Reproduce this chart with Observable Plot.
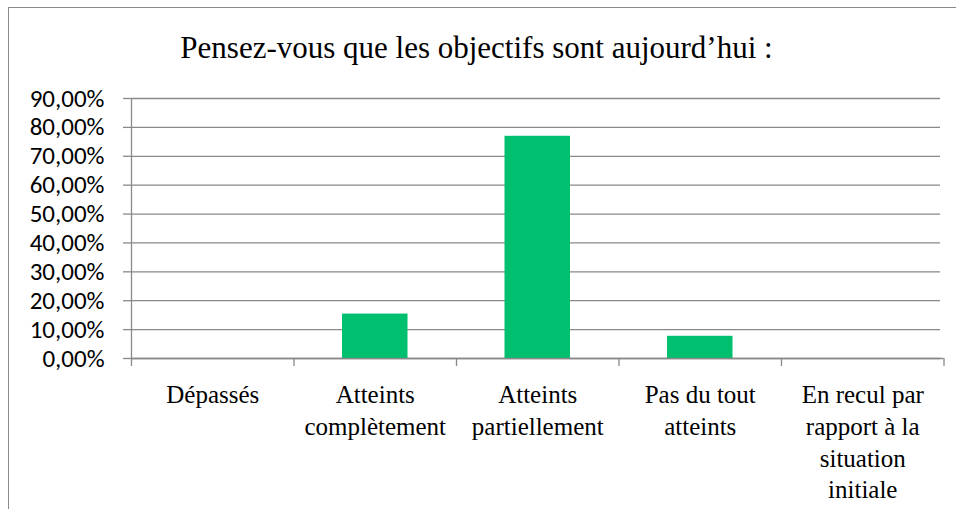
<!DOCTYPE html>
<html>
<head>
<meta charset="utf-8">
<script src="https://cdn.jsdelivr.net/npm/d3@7"></script>
<script src="https://cdn.jsdelivr.net/npm/@observablehq/plot@0.6"></script>
<style>
  html, body { margin: 0; padding: 0; background: #fff; overflow: hidden; }
  #wrap { position: relative; width: 956px; height: 509px; overflow: hidden; }
  #frame { position: absolute; left: 8px; top: 7px; width: 1000px; height: 600px;
           border-left: 1.5px solid #8a8a8a; border-top: 1.5px solid #8a8a8a; pointer-events: none; }
  #title { position: relative; height: 48px; padding-top: 32px; width: 953px; text-align: center;
           font-family: "Liberation Serif", serif; font-size: 31px; line-height: 31px; color: #000; }
  #chart svg { display: block; }
</style>
</head>
<body>
<div id="wrap">
  <div id="frame"></div>
  <div id="title">Pensez-vous que les objectifs sont aujourd’hui :</div>
  <div id="chart"></div>
</div>
<script>
const categories = ["Dépassés", "Atteints complètement", "Atteints partiellement", "Pas du tout atteints", "En recul par rapport à la situation initiale"];
const values = [0, 0.1538, 0.7692, 0.0769, 0];
const tickLabels = ["Dépassés", "Atteints\ncomplètement", "Atteints\npartiellement", "Pas du tout\natteints", "En recul par\nrapport à la\nsituation\ninitiale"];
const yTicks = [0, 0.1, 0.2, 0.3, 0.4, 0.5, 0.6, 0.7, 0.8, 0.9];

const data = categories.map((c, i) => ({category: c, index: i, value: values[i], label: tickLabels[i]}));
const fmt = d => (d * 100).toFixed(2).replace(".", ",") + "%";
const grid = "#898989";

const chart = Plot.plot({
  width: 956,
  height: 429,
  marginLeft: 131,
  marginRight: 12.5,
  marginTop: 18,
  marginBottom: 151,
  x: {type: "linear", domain: [0, categories.length], axis: null},
  y: {domain: [0, 0.9], axis: null},
  style: {background: "transparent", color: "#000"},
  marks: [
    Plot.ruleY(yTicks, {stroke: grid, strokeWidth: 1.3, insetRight: 3.5}),
    Plot.rectY(data, {x1: "index", x2: d => d.index + 1, y: "value", fill: "#00BF6F", insetLeft: 48.5, insetRight: 48.5}),
    Plot.ruleX([0], {stroke: grid, strokeWidth: 1.3}),
    Plot.axisY({ticks: yTicks, tickFormat: fmt, tickSize: 8, tickPadding: 19, fontSize: 25,
                fontFamily: "Carlito, 'Open Sans', sans-serif", stroke: grid, strokeWidth: 1.3, fill: "#000", label: null}),
    Plot.axisX({ticks: d3.range(categories.length + 1), tickFormat: () => "", tickSize: 8,
                stroke: grid, strokeWidth: 1.3, label: null}),
    Plot.ruleY([0], {stroke: grid, strokeWidth: 1.3}),
    Plot.text(data, {x: d => d.index + 0.5, text: "label", frameAnchor: "bottom", lineAnchor: "top",
                     dy: 22, fontSize: 25, lineHeight: 1.27, fill: "#000",
                     fontFamily: "Liberation Serif, serif"})
  ]
});
document.getElementById("chart").appendChild(chart);
</script>
</body>
</html>
